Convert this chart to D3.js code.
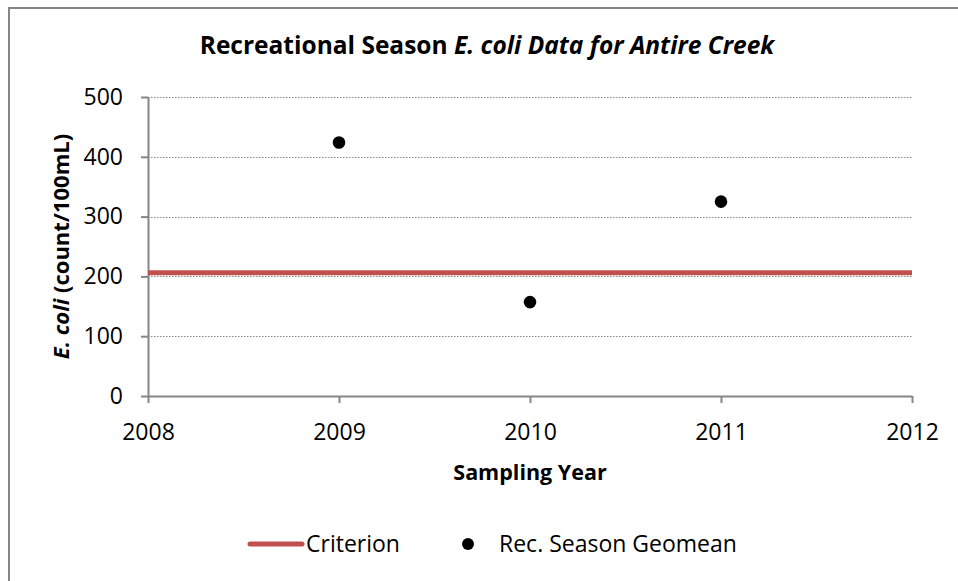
<!DOCTYPE html>
<html><head><meta charset="utf-8">
<script src="https://cdn.jsdelivr.net/npm/d3@7"></script>
<style>body{margin:0;background:#fff}svg{display:block}text{font-family:"Open Sans",sans-serif;fill:#000}</style>
</head><body><svg id="c" width="958" height="581"></svg>
<script>
const years = [2009, 2010, 2011];
const geomean = [424, 157, 325];
const criterionYears = [2008, 2012];
const criterionValue = [206, 206];
const xTicks = [2008, 2009, 2010, 2011, 2012];
const yTicks = [0, 100, 200, 300, 400, 500];

const svg = d3.select("#c");
const grey = "#868686";
// outer frame (only left/top visible)
svg.append("rect").attr("x", 9).attr("y", 8).attr("width", 1000).attr("height", 1000)
  .attr("fill", "none").attr("stroke", grey).attr("stroke-width", 2);

const x = d3.scaleLinear().domain([2008, 2012]).range([148, 912]);
const y = d3.scaleLinear().domain([0, 500]).range([396, 97]);

// gridlines
svg.append("g").selectAll("line").data(yTicks.filter(d => d > 0)).join("line")
  .attr("x1", x(2008)).attr("x2", x(2012)).attr("y1", d => Math.round(y(d)) + 0.5).attr("y2", d => Math.round(y(d)) + 0.5)
  .attr("stroke", grey).attr("stroke-width", 1).attr("stroke-dasharray", "1.5,1.5");

// axes
const yAxis = svg.append("g").attr("transform", `translate(${x(2008)},0)`)
  .call(d3.axisLeft(y).tickValues(yTicks).tickSize(7).tickPadding(18).tickSizeOuter(0));
const xAxis = svg.append("g").attr("transform", `translate(0,${y(0)})`)
  .call(d3.axisBottom(x).tickValues(xTicks).tickFormat(d3.format("d")).tickSize(7).tickPadding(21).tickSizeOuter(0));
[yAxis, xAxis].forEach(g => {
  g.select(".domain").attr("stroke", grey).attr("stroke-width", 2);
  g.selectAll(".tick line").attr("stroke", grey).attr("stroke-width", 2);
  g.selectAll(".tick text").attr("font-size", 23).attr("font-family", "Open Sans").attr("fill", "#000");
});

// criterion line
const line = d3.line().x((d, i) => x(criterionYears[i])).y(d => y(d));
svg.append("path").attr("d", line(criterionValue)).attr("fill", "none")
  .attr("stroke", "#C0504D").attr("stroke-width", 5);

// points
svg.append("g").selectAll("circle").data(years).join("circle")
  .attr("cx", d => x(d)).attr("cy", (d, i) => y(geomean[i])).attr("r", 6.3).attr("fill", "#000");

// title
const title = svg.append("text").attr("x", 487).attr("y", 54).attr("text-anchor", "middle")
  .attr("font-size", 24.5).attr("font-weight", "bold");
title.append("tspan").text("Recreational Season ");
title.append("tspan").attr("font-style", "italic").text("E. coli Data for Antire Creek");

// y title
const yt = svg.append("text").attr("transform", `translate(69,${(y(0) + y(500)) / 2}) rotate(-90)`)
  .attr("text-anchor", "middle").attr("font-size", 22).attr("font-weight", "bold");
yt.append("tspan").attr("font-style", "italic").text("E. coli");
yt.append("tspan").text(" (count/100mL)");

// x title
svg.append("text").attr("x", x(2010)).attr("y", 480).attr("text-anchor", "middle")
  .attr("font-size", 21.5).attr("font-weight", "bold").text("Sampling Year");

// legend
const lg = svg.append("g");
lg.append("line").attr("x1", 250).attr("x2", 302).attr("y1", 544).attr("y2", 544)
  .attr("stroke", "#C0504D").attr("stroke-width", 5).attr("stroke-linecap", "round");
lg.append("text").attr("x", 306).attr("y", 552).attr("font-size", 23).text("Criterion");
lg.append("circle").attr("cx", 468).attr("cy", 544).attr("r", 6).attr("fill", "#000");
lg.append("text").attr("x", 499).attr("y", 552).attr("font-size", 23).text("Rec. Season Geomean");
</script></body></html>
